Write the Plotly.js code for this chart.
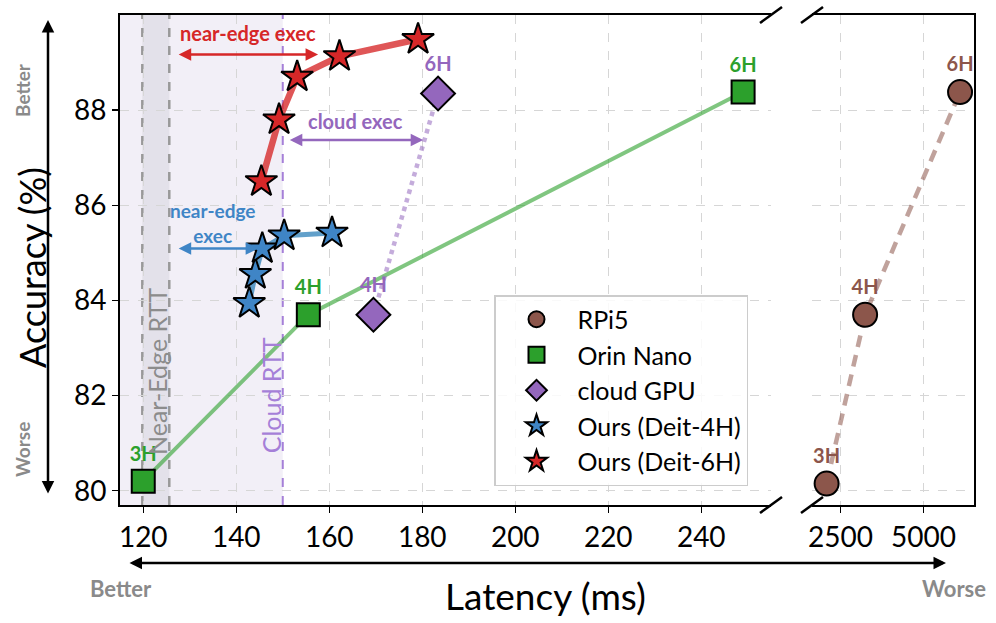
<!DOCTYPE html>
<html><head><meta charset="utf-8">
<script src="https://cdn.plot.ly/plotly-3.0.1.min.js"></script>
<style>html,body{margin:0;padding:0;background:#fff}</style>
</head><body><div id="chart" style="width:996px;height:623px"></div>
<script>
// ---- data ----
const headLabelsOrin = ['3H', '4H', '6H'];
const orinX = [120, 155.5, 249];
const orinY = [80.2, 83.7, 88.38];
const headLabelsCloud = ['4H', '6H'];
const cloudX = [169.5, 183.4];
const cloudY = [83.7, 88.35];
const headLabelsRpi = ['3H', '4H', '6H'];
const rpiX = [2080, 3240, 6100];
const rpiY = [80.15, 83.7, 88.38];
const ours4X = [142.8, 144.1, 145.6, 150.3, 160.6];
const ours4Y = [83.94, 84.55, 85.09, 85.36, 85.42];
const ours6X = [145.4, 149.2, 153.1, 162.2, 179.1];
const ours6Y = [86.5, 87.8, 88.7, 89.13, 89.49];
const nearEdgeRTT = [119.8, 125.6];
const cloudRTT = 150;
// arrows: [start, end, y]
const redArrow = [127.3, 157.6, 89.17];
const purpleArrow = [151.2, 180.2, 87.37];
const blueArrow = [127.3, 144.7, 85.09];
const xTicksLeft = [120, 140, 160, 180, 200, 220, 240];
const xTicksRight = [2500, 5000];
const yTicks = [80, 82, 84, 86, 88];

const C = {red:'#d62728', blue:'#3f85c6', green:'#2ca02c', purple:'#9467bd', brown:'#8c564b'};
const FONT = 'Lato, "Open Sans", sans-serif';

function lineTrace(x, y, xa, ya, color, width, dash) {
  return {x, y, xaxis:xa, yaxis:ya, mode:'lines', showlegend:false, hoverinfo:'skip',
          line:{color, width, dash: dash || 'solid'}};
}
function markTrace(name, x, y, xa, ya, symbol, size, color, text) {
  const t = {name, x, y, xaxis:xa, yaxis:ya, mode: text ? 'markers+text' : 'markers',
    marker:{symbol, size, color, line:{color:'#000', width:2}}};
  if (text) { t.text = text.map(s => '<b>' + s + '</b>'); t.textposition = 'top center';
    t.textfont = {color, size: 20, family: FONT}; }
  return t;
}

const traces = [
  lineTrace(rpiX, rpiY, 'x2', 'y2', 'rgba(140,86,75,0.55)', 4.5, '12px,8px'),
  lineTrace(orinX, orinY, 'x', 'y', 'rgba(44,160,44,0.6)', 4),
  lineTrace(cloudX, cloudY, 'x', 'y', 'rgba(148,103,189,0.55)', 4.5, 'dot'),
  lineTrace(ours4X, ours4Y, 'x', 'y', 'rgba(31,119,180,0.7)', 5),
  lineTrace(ours6X, ours6Y, 'x', 'y', 'rgba(214,39,40,0.78)', 6.5),
  markTrace('RPi5', rpiX, rpiY, 'x2', 'y2', 'circle', 24, C.brown, headLabelsRpi),
  markTrace('Orin Nano', orinX, orinY, 'x', 'y', 'square', 23, C.green, headLabelsOrin),
  markTrace('cloud GPU', cloudX, cloudY, 'x', 'y', 'diamond', 26, C.purple, headLabelsCloud),
  markTrace('Ours (Deit-4H)', ours4X, ours4Y, 'x', 'y', 'star', 24, C.blue),
  markTrace('Ours (Deit-6H)', ours6X, ours6Y, 'x', 'y', 'star', 24, C.red),
];

const W = 996, H = 623;
const px = v => v / W, py = v => 1 - v / H;
const yDom = [py(505), py(15)];

function brk(cx, cy) {
  return {type:'line', xref:'paper', yref:'paper', x0:px(cx-11), y0:py(cy+8), x1:px(cx+11), y1:py(cy-8),
          line:{color:'#000', width:2.5}, layer:'above'};
}

const shapes = [
  {type:'rect', xref:'x', yref:'y domain', x0:115, x1:cloudRTT, y0:0, y1:1, fillcolor:'rgba(160,140,200,0.14)', line:{width:0}, layer:'below'},
  {type:'rect', xref:'x', yref:'y domain', x0:nearEdgeRTT[0], x1:nearEdgeRTT[1], y0:0, y1:1, fillcolor:'rgba(120,120,140,0.12)', line:{width:0}, layer:'below'},
  ...nearEdgeRTT.map(v => ({type:'line', xref:'x', yref:'y domain', x0:v, x1:v, y0:0, y1:1, line:{color:'#999', width:2.5, dash:'dash'}, layer:'below'})),
  {type:'line', xref:'x', yref:'y domain', x0:cloudRTT, x1:cloudRTT, y0:0, y1:1, line:{color:'#a57fd8', width:2, dash:'dash'}, layer:'below'},
  brk(771, 15), brk(771, 505), brk(812, 15), brk(812, 505),
];

function arrow(a, color) {
  return {xref:'x', yref:'y', axref:'x', ayref:'y', x:a[1], y:a[2], ax:a[0], ay:a[2], text:'',
          showarrow:true, arrowside:'end+start', arrowhead:2, arrowsize:1, arrowwidth:2.5, arrowcolor:color,
          standoff:0, startstandoff:0};
}
function txt(xref, yref, x, y, text, size, color, angle) {
  return {xref, yref, x, y, text, showarrow:false, xanchor:'center', yanchor:'middle', textangle: angle || 0,
          font:{color, size, family:FONT}};
}

const annotations = [
  arrow(redArrow, C.red), arrow(purpleArrow, C.purple), arrow(blueArrow, C.blue),
  txt('x', 'y', (redArrow[0]+redArrow[1])/2, 89.62, '<b>near-edge exec</b>', 20, C.red),
  txt('x', 'y', (purpleArrow[0]+purpleArrow[1])/2, 87.78, '<b>cloud exec</b>', 20, C.purple),
  txt('x', 'y', 134.8, 85.62, '<b>near-edge<br>exec</b>', 19, C.blue),
  txt('x', 'y', 123, 82.5, 'Near-Edge RTT', 25, '#8c8c8c', -90),
  txt('x', 'y', 147.4, 82.0, 'Cloud RTT', 25, '#a57fd8', -90),
  // axis direction arrows
  {xref:'paper', yref:'paper', x:px(48), y:py(20), ax:0, ay:475, text:'', showarrow:true, arrowside:'end+start', arrowhead:2, arrowsize:1, arrowwidth:2.5, arrowcolor:'#000', standoff:0, startstandoff:0},
  {xref:'paper', yref:'paper', x:px(946), y:py(563), ax:-818, ay:0, text:'', showarrow:true, arrowside:'end+start', arrowhead:2, arrowsize:1, arrowwidth:2.5, arrowcolor:'#000', standoff:0, startstandoff:0},
  txt('paper', 'paper', px(22), py(90), '<b>Better</b>', 19, '#8a8a8a', -90),
  txt('paper', 'paper', px(22), py(450), '<b>Worse</b>', 19, '#8a8a8a', -90),
  txt('paper', 'paper', px(121), py(588), '<b>Better</b>', 22, '#8a8a8a'),
  txt('paper', 'paper', px(954), py(588), '<b>Worse</b>', 22, '#8a8a8a'),
  txt('paper', 'paper', px(32), py(268), 'Accuracy (%)', 36, '#000', -90),
  txt('paper', 'paper', px(545), py(595), 'Latency (ms)', 37, '#000'),
];

const axCommon = {showline:true, linecolor:'#000', linewidth:2, ticks:'outside', ticklen:6, tickwidth:1.5, tickcolor:'#000',
  showgrid:true, gridcolor:'#d6d6d6', gridwidth:1.2, griddash:'dash', zeroline:false,
  tickfont:{size:28, family:FONT, color:'#000'}};

const layout = {
  width:W, height:H, margin:{l:0, r:0, t:0, b:0}, paper_bgcolor:'#fff', plot_bgcolor:'rgba(0,0,0,0)',
  font:{family:FONT, color:'#000'},
  showlegend:true,
  legend:{x:px(494), y:py(295), xanchor:'left', yanchor:'top', bgcolor:'rgba(255,255,255,0.85)', bordercolor:'#cccccc', borderwidth:1.5,
          font:{size:25, family:FONT, color:'#000'}, itemsizing:'trace', itemwidth:72},
  xaxis:Object.assign({}, axCommon, {domain:[px(120), px(771)], range:[115, 255], tickvals:xTicksLeft, mirror:true, anchor:'y'}),
  xaxis2:Object.assign({}, axCommon, {domain:[px(812), px(974)], range:[1640, 6520], tickvals:xTicksRight, mirror:true, anchor:'y2'}),
  yaxis:Object.assign({}, axCommon, {domain:yDom, range:[79.7, 90], tickvals:yTicks, anchor:'x'}),
  yaxis2:Object.assign({}, axCommon, {domain:yDom, range:[79.7, 90], tickvals:yTicks, anchor:'x2', side:'right', showticklabels:false, ticks:''}),
  shapes, annotations,
};

Plotly.newPlot('chart', traces, layout, {staticPlot:true, displayModeBar:false});
</script></body></html>
